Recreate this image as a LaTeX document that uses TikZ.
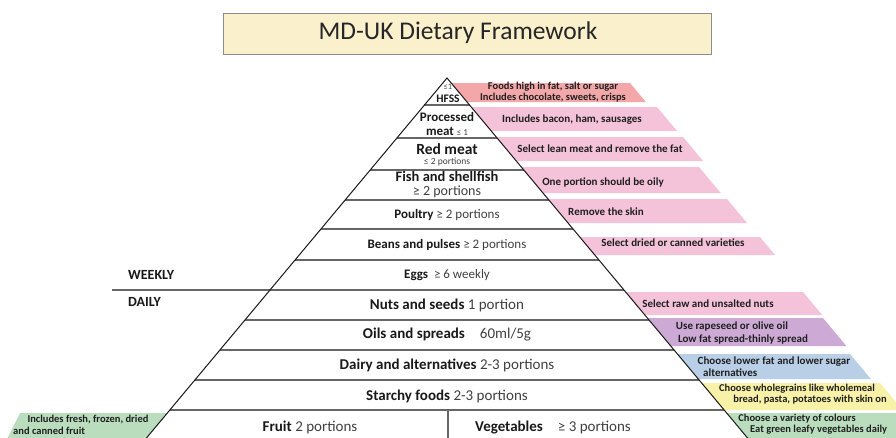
\documentclass[tikz,border=0pt]{standalone}
\usepackage{fontspec}
\setmainfont{Carlito}
\definecolor{salmon}{HTML}{F3A7A9}
\definecolor{pinkb}{HTML}{F4C3D9}
\definecolor{lavb}{HTML}{CDAAD5}
\definecolor{blueb}{HTML}{B8CFE7}
\definecolor{yelb}{HTML}{F8F1A8}
\definecolor{greenb}{HTML}{BADDBE}
\definecolor{titlefill}{HTML}{FAF0CC}
\newcommand{\mybf}[1]{\textbf{\color{black!90}#1}}
\newcommand{\rband}[4]{%
  \pgfmathsetmacro{\myA}{447+0.835*(#2-78)}%
  \pgfmathsetmacro{\myB}{447+0.835*(#3-78)}%
  \pgfmathsetmacro{\myC}{#4+0.835*(#3-#2)}%
  \fill[#1] (\myA,#2) -- (#4,#2) -- (\myC,#3) -- (\myB,#3) -- cycle;}
\newcommand{\bandline}[1]{%
  \pgfmathsetmacro{\myH}{0.835*(#1-78)}%
  \draw[bandln] ({447-\myH},#1) -- ({447+\myH},#1);}
\tikzset{
  plab/.style={font=\fontsize{13}{15}\selectfont, text=black!75, inner sep=0pt},
  plabL/.style={font=\fontsize{15}{17}\selectfont, text=black!75, inner sep=0pt},
  btxt/.style={font=\bfseries\fontsize{11}{12}\selectfont, text=black!88, inner sep=0pt},
  btxtS/.style={font=\bfseries\fontsize{10.5}{11}\selectfont, text=black!88, inner sep=0pt},
  bandln/.style={draw=black!60, line width=1.5pt},
  side/.style={draw=black!90, line width=1pt},
  titlebox/.style={draw=black!45, line width=1pt, fill=titlefill, inner sep=0pt},
}
\begin{document}
\begin{tikzpicture}[x=1pt,y=-1pt]
\useasboundingbox (0,0) rectangle (896,437);
\clip (0,0) rectangle (896,437);
% title
\node[titlebox, minimum width=488pt, minimum height=41pt] (tbox) at (467,33.5) {};
\node[font=\fontsize{25.5}{29}\selectfont, text=black!85, inner sep=0pt] (title) at (458,33) {MD-UK Dietary Framework};
% right bands
\rband{salmon}{83}{102}{630}
\rband{pinkb}{107}{131}{657}
\rband{pinkb}{137}{161}{683}
\rband{pinkb}{167}{193}{699}
\rband{pinkb}{199}{223}{727}
\rband{pinkb}{237}{255}{760}
\rband{pinkb}{292}{315}{803}
\rband{lavb}{318}{346}{823}
\rband{blueb}{354}{379}{850}
\rband{yelb}{383}{410}{880}
\rband{greenb}{413}{445}{905}
% left green band
\fill[greenb] (20,413) -- (167.3,413) -- (140.6,445) -- (4,445) -- cycle;
% band lines
\bandline{105}
\bandline{138}
\bandline{170}
\bandline{200}
\bandline{229}
\bandline{260}
\bandline{320}
\bandline{350}
\bandline{380}
\bandline{410}
\draw[bandln] (112,290) -- (624,290);
\draw[bandln] (448,410) -- (448,445);
% pyramid sides
\draw[side, line join=miter] (140.6,445) -- (447,78) -- (753.4,445);
% pyramid labels
\node[plab, font=\fontsize{8.5}{9}\selectfont, text=black!70] (le1) at (448,87) {≤1};
\node[plab, font=\bfseries\fontsize{11.5}{12}\selectfont, text=black!90] (hfss) at (448,99) {HFSS};
\node[plab, font=\bfseries\fontsize{13}{14}\selectfont, text=black!90] (proc) at (447,117) {Processed};
\node[plab] (pmeat) at (447,131) {\mybf{\fontsize{13}{14}\selectfont meat} {\fontsize{9}{10}\selectfont ≤ 1}};
\node[plab, font=\bfseries\fontsize{15.5}{16}\selectfont, text=black!90] (red) at (447,149) {Red meat};
\node[plab, font=\fontsize{9.5}{10}\selectfont] (redp) at (447,162) {≤ 2 portions};
\node[plab, font=\bfseries\fontsize{14.5}{15}\selectfont, text=black!90] (fish) at (447,176.5) {Fish and shellfish};
\node[plab, font=\fontsize{14}{15}\selectfont] (fishp) at (447,192) {≥ 2 portions};
\node[plab] (poul) at (447,215) {\mybf{Poultry} ≥ 2 portions};
\node[plab] (beans) at (447,245) {\mybf{Beans and pulses} ≥ 2 portions};
\node[plab] (eggs) at (447,275) {\mybf{Eggs}\ \ ≥ 6 weekly};
\node[plabL] (nuts) at (447,305) {\mybf{Nuts and seeds} 1 portion};
\node[plabL] (oils) at (447,335) {\mybf{Oils and spreads}\quad 60ml/5g};
\node[plabL] (dairy) at (447,365) {\mybf{Dairy and alternatives} 2-3 portions};
\node[plabL] (starch) at (447,396) {\mybf{Starchy foods} 2-3 portions};
\node[plabL] (fruit) at (310,427) {\mybf{Fruit} 2 portions};
\node[plabL] (veg) at (553,427) {\mybf{Vegetables}\quad ≥ 3 portions};
% weekly / daily
\node[plab, anchor=west, font=\bfseries\fontsize{14}{15}\selectfont, text=black!90] (weekly) at (128,275) {WEEKLY};
\node[plab, anchor=west, font=\bfseries\fontsize{14}{15}\selectfont, text=black!90] (daily) at (128,302) {DAILY};
% band texts
\node[btxtS] (t1a) at (553,86.5) {Foods high in fat, salt or sugar};
\node[btxtS] (t1b) at (553,97.5) {Includes chocolate, sweets, crisps};
\node[btxt] (t2) at (572,120) {Includes bacon, ham, sausages};
\node[btxt] (t3) at (600,149) {Select lean meat and remove the fat};
\node[btxt] (t4) at (603,182) {One portion should be oily};
\node[btxt] (t5) at (606,212) {Remove the skin};
\node[btxt] (t6) at (673,243) {Select dried or canned varieties};
\node[btxt] (t8) at (708,304) {Select raw and unsalted nuts};
\node[btxt] (t9a) at (732,326) {Use rapeseed or olive oil};
\node[btxt] (t9b) at (743,339) {Low fat spread-thinly spread};
\node[btxt] (t10a) at (774,362) {Choose lower fat and lower sugar};
\node[btxt, anchor=west] (t10b) at (703,373) {alternatives};
\node[btxtS] (t11a) at (797,388.5) {Choose wholegrains like wholemeal};
\node[btxtS] (t11b) at (810,399.5) {bread, pasta, potatoes with skin on};
\node[btxtS] (t12a) at (797,418.5) {Choose a variety of colours};
\node[btxtS, anchor=west] (t12b) at (750,429.5) {Eat green leafy vegetables daily};
\node[btxtS] (tla) at (88,419.5) {Includes fresh, frozen, dried};
\node[btxtS, anchor=west] (tlb) at (13,430.5) {and canned fruit};
\end{tikzpicture}
\end{document}
